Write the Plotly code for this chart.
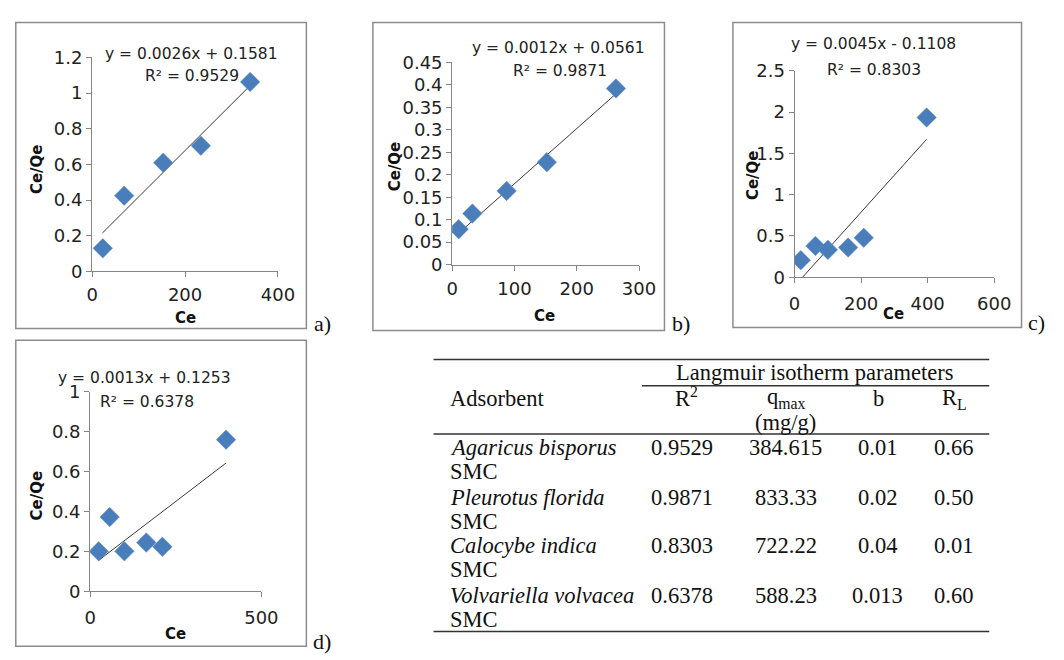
import plotly.graph_objects as go

W, H = 1064, 660

# ---------------- data ----------------
a_ce = [23, 69, 153, 234, 340]
a_cq = [0.13, 0.425, 0.61, 0.705, 1.063]
a_fit_x = [22, 340]
a_fit_y = [0.215, 1.042]
a_eq = "y = 0.0026x + 0.1581"
a_r2 = "R² = 0.9529"

b_ce = [10.5, 32.5, 87.5, 152, 263]
b_cq = [0.079, 0.1135, 0.164, 0.228, 0.392]
b_fit_x = [10.5, 263]
b_fit_y = [0.07, 0.38]
b_eq = "y = 0.0012x + 0.0561"
b_r2 = "R² = 0.9871"

c_ce = [18.6, 62.8, 100, 161, 208, 397]
c_cq = [0.207, 0.379, 0.332, 0.36, 0.477, 1.934]
c_fit_x = [24, 397]
c_fit_y = [0.0, 1.67]
c_eq = "y = 0.0045x - 0.1108"
c_r2 = "R² = 0.8303"

d_ce = [25, 57, 100, 164, 211, 397]
d_cq = [0.2, 0.372, 0.2, 0.244, 0.223, 0.76]
d_fit_x = [25, 397]
d_fit_y = [0.155, 0.643]
d_eq = "y = 0.0013x + 0.1253"
d_r2 = "R² = 0.6378"

a_xticks = [0, 200, 400]
a_yticks = [0, 0.2, 0.4, 0.6, 0.8, 1, 1.2]
a_yticktext = ["0", "0.2", "0.4", "0.6", "0.8", "1", "1.2"]
b_xticks = [0, 100, 200, 300]
b_yticks = [0, 0.05, 0.1, 0.15, 0.2, 0.25, 0.3, 0.35, 0.4, 0.45]
b_yticktext = ["0", "0.05", "0.1", "0.15", "0.2", "0.25", "0.3", "0.35", "0.4", "0.45"]
c_xticks = [0, 200, 400, 600]
c_yticks = [0, 0.5, 1, 1.5, 2, 2.5]
c_yticktext = ["0", "0.5", "1", "1.5", "2", "2.5"]
d_xticks = [0, 500]
d_yticks = [0, 0.2, 0.4, 0.6, 0.8, 1]
d_yticktext = ["0", "0.2", "0.4", "0.6", "0.8", "1"]

# table
tbl_names = ["Agaricus bisporus", "Pleurotus florida", "Calocybe indica", "Volvariella volvacea"]
tbl_r2 = ["0.9529", "0.9871", "0.8303", "0.6378"]
tbl_qmax = ["384.615", "833.33", "722.22", "588.23"]
tbl_b = ["0.01", "0.02", "0.04", "0.013"]
tbl_rl = ["0.66", "0.50", "0.01", "0.60"]

# ---------------- helpers ----------------
def px(x):
    return x / W

def py(y):
    return 1 - y / H

SANS = "DejaVu Sans"
SERIF = "Liberation Serif"
AXC = "#868686"
MK = "#4A7EBB"

fig = go.Figure()

panels = [
    ("", a_ce, a_cq, a_fit_x, a_fit_y, (88, 278), (269, 48), [0, 400], [0, 1.2], a_xticks, a_yticks, a_yticktext, 2),
    ("2", b_ce, b_cq, b_fit_x, b_fit_y, (456, 647), (262, 53), [0, 300], [0, 0.45], b_xticks, b_yticks, b_yticktext, 3),
    ("3", c_ce, c_cq, c_fit_x, c_fit_y, (806, 1010), (275, 61.7), [0, 600], [0, 2.5], c_xticks, c_yticks, c_yticktext, 5),
    ("4", d_ce, d_cq, d_fit_x, d_fit_y, (86, 261), (599.3, 393.3), [0, 500], [0, 1], d_xticks, d_yticks, d_yticktext, 5),
]

layout_axes = {}
for suf, ce, cq, fx, fy, xd, yd, xr, yr, xt, yt, ytt, so in panels:
    xa = "x" + suf
    ya = "y" + suf
    fig.add_trace(go.Scatter(x=fx, y=fy, mode="lines", xaxis=xa, yaxis=ya,
                             line=dict(color="#3a3a3a", width=1), showlegend=False,
                             hoverinfo="skip"))
    fig.add_trace(go.Scatter(x=ce, y=cq, mode="markers", xaxis=xa, yaxis=ya,
                             marker=dict(symbol="diamond", size=15, color=MK,
                                         line=dict(color="#5b8fcf", width=0.5)),
                             showlegend=False))
    common = dict(showline=True, linecolor=AXC, linewidth=1, ticks="outside",
                  ticklen=5, tickcolor=AXC, tickwidth=1, showgrid=False, zeroline=False,
                  tickfont=dict(family=SANS, size=18, color="#222222"), fixedrange=True)
    layout_axes["xaxis" + suf] = dict(common, domain=[px(xd[0]), px(xd[1])], range=xr,
                                      tickvals=xt, ticktext=[str(v) for v in xt],
                                      anchor=ya, ticklabelstandoff=so)
    layout_axes["yaxis" + suf] = dict(common, domain=[py(yd[0]), py(yd[1])], range=yr,
                                      tickvals=yt, ticktext=ytt, anchor=xa)

fig.update_layout(**layout_axes)

shapes = []
# chart frames
for x0, y0, x1, y1 in [(10, 12, 307, 328), (375, 12, 673, 330), (743, 12, 1038, 327), (10, 340, 307, 656)]:
    shapes.append(dict(type="rect", xref="paper", yref="paper", x0=px(x0), x1=px(x1),
                       y0=py(y1), y1=py(y0), line=dict(color="#8c8c8c", width=1.5),
                       fillcolor="rgba(0,0,0,0)", layer="below"))

# table rules
for x0, x1, y in [(437, 1005, 360), (650, 1005, 387), (437, 1005, 437), (437, 1005, 641)]:
    shapes.append(dict(type="line", xref="paper", yref="paper", x0=px(x0), x1=px(x1),
                       y0=py(y), y1=py(y), line=dict(color="#333333", width=1.5)))

ann = []

def add_text(text, x, y, size, family=SANS, xanchor="center", color="#222222", angle=0, bold=False):
    if bold:
        text = "<b>" + text + "</b>"
    ann.append(dict(text=text, x=px(x), y=py(y), xref="paper", yref="paper",
                    xanchor=xanchor, yanchor="middle", showarrow=False,
                    textangle=angle, font=dict(family=family, size=size, color=color)))

# equations
for eq, r2, (ex, ey), (rx, ry) in [
    (a_eq, a_r2, (190, 44), (190, 67)),
    (b_eq, b_r2, (565, 38), (566, 62)),
    (c_eq, c_r2, (887, 34), (887, 61)),
    (d_eq, d_r2, (142, 379), (144, 404)),
]:
    add_text(eq, ex, ey, 15.5)
    add_text(r2, rx, ry, 15.5)

# axis titles
for (tx, ty), (cx, cy) in [((32, 163), (183, 317)), ((398, 160), (550, 315)),
                           ((763, 170), (907, 313)), ((32, 500), (173, 643))]:
    add_text("Ce/Qe", tx, ty, 15, angle=-90, bold=True, color="#111111")
    add_text("Ce", cx, cy, 15, bold=True, color="#111111")

# panel letters
for lab, x, y in [("a)", 323, 323), ("b)", 690, 323), ("c)", 1053, 322), ("d)", 323, 651)]:
    add_text(lab, x, y, 22, family=SERIF, color="#111111")

# table header
TS = 22.5
add_text("Langmuir isotherm parameters", 826, 373, TS, family=SERIF, color="#111111")
add_text("Adsorbent", 452, 400, TS, family=SERIF, xanchor="left", color="#111111")
add_text("R<sup>2</sup>", 696, 399, TS, family=SERIF, color="#111111")
add_text("q<sub>max</sub>", 797, 400, TS, family=SERIF, color="#111111")
add_text("(mg/g)", 797, 425, TS, family=SERIF, color="#111111")
add_text("b", 892, 400, TS, family=SERIF, color="#111111")
add_text("R<sub>L</sub>", 969, 401, TS, family=SERIF, color="#111111")

row_y = [451, 502, 552, 604]
for i, yy in enumerate(row_y):
    add_text("<i>" + tbl_names[i] + "</i>", 452, yy, TS, family=SERIF, xanchor="left", color="#111111")
    add_text("SMC", 452, yy + 25, TS, family=SERIF, xanchor="left", color="#111111")
    add_text(tbl_r2[i], 691, yy, TS, family=SERIF, color="#111111")
    add_text(tbl_qmax[i], 797, yy, TS, family=SERIF, color="#111111")
    add_text(tbl_b[i], 891, yy, TS, family=SERIF, color="#111111")
    add_text(tbl_rl[i], 968, yy, TS, family=SERIF, color="#111111")

fig.update_layout(width=W, height=H, margin=dict(l=0, r=0, t=0, b=0),
                  paper_bgcolor="white", plot_bgcolor="rgba(0,0,0,0)",
                  shapes=shapes, annotations=ann, showlegend=False)

fig.write_html("out.html", config={"displayModeBar": False},
               post_script="document.body.style.margin='0';document.body.style.overflow='hidden';")
